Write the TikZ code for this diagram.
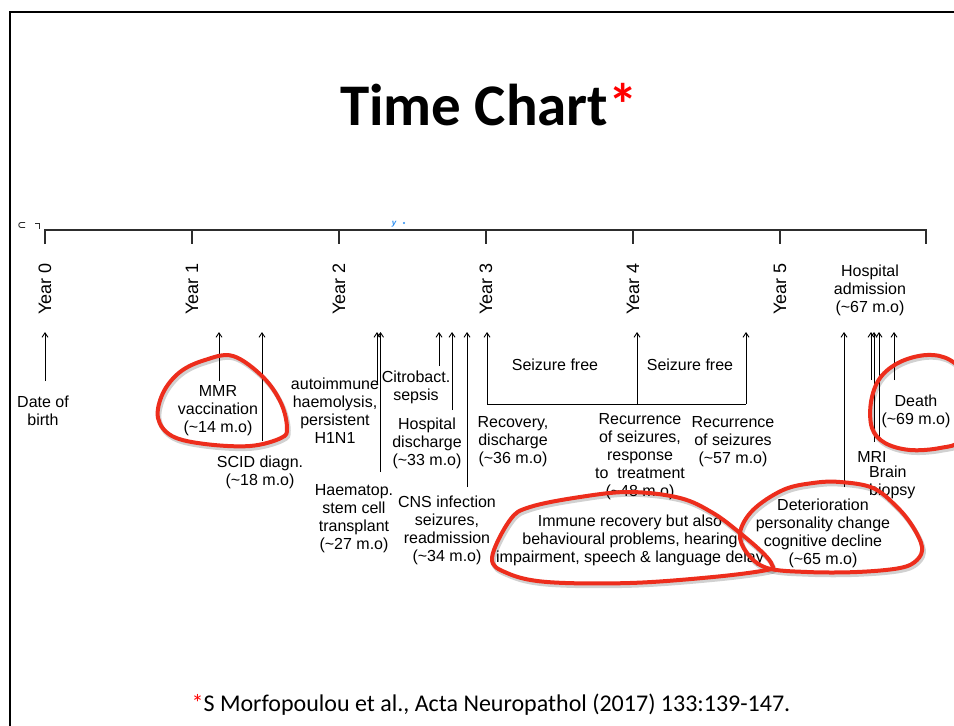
\documentclass[tikz,border=0pt]{standalone}
\usepackage{fontspec}
\setmainfont{Liberation Sans}
\newfontfamily\calfont{Carlito}
\usetikzlibrary{arrows.meta}
\definecolor{redc}{RGB}{237,45,28}
\definecolor{axisc}{RGB}{45,45,45}
\definecolor{bluec}{RGB}{40,140,240}
\newcommand{\tld}{\textasciitilde}
\begin{document}
\begin{tikzpicture}[x=1pt,y=-1pt,
  lbl/.style={align=center, inner sep=0pt, font=\fontsize{16}{18}\selectfont},
  yr/.style={rotate=90, anchor=east, inner sep=0pt, font=\fontsize{18}{20}\selectfont},
  arr/.style={-{Straight Barb[length=4.5pt,width=6pt]}, line width=0.9pt},
  blob/.style={draw=redc, line width=4pt, line join=round},
  shadowblob/.style={draw=black, opacity=0.18, line width=4.5pt},
  ax/.style={draw=axisc, line width=1.6pt, line join=miter}]
\useasboundingbox (0,0) rectangle (954,726);
\clip (0,0) rectangle (954,726);
\fill[white] (0,0) rectangle (954,726);
% frame
\draw[line width=2pt] (10,730) -- (10,12) -- (960,12);
% title
\node[anchor=base, inner sep=0pt, font=\calfont\bfseries\fontsize{59}{70}\selectfont] (title) at (489,125) {Time Chart\textcolor{red}{*}};
% small axis remnants
\draw[axisc, line width=0.9pt] (25,222.5) -- (21,222.5) .. controls (18,222.5) and (18,227.5) .. (21,227.5) -- (25,227.5);
\draw[axisc, line width=0.9pt] (35,223) -- (39,223) -- (39,229);
\node[inner sep=0pt, text=bluec, font=\bfseries\itshape\fontsize{8}{8}\selectfont] (blue) at (394,224) {y};
\fill[bluec] (404,223) circle (1.1);
% axis
\coordinate (a0) at (45,230);
\coordinate (a6) at (926,230);
\draw[ax] (45,244) -- (a0) -- (a6) -- (926,244);
\foreach \i in {1,...,5} {\draw[ax] (45+147*\i,230) -- (45+147*\i,244);}
\foreach \i in {0,...,5} {\node[yr] (y\i) at (45+147*\i,263) {Year \i};}
% arrows: coordinates
\foreach \n/\x/\yb in {dob/45/381, mmr/219/381, scid/262/441, auto/377/383, haem/380.5/472,
   cit/439/366, hd/452/410, cns/467/487, det/844/487, mria/871/380, mrib/874/442, brn/879/438, dth/894/380} {
  \coordinate (\n b) at (\x,\yb);
  \coordinate (\n t) at (\x,332);
  \draw[arr] (\n b) -- (\n t);
}
% bracket
\coordinate (br1) at (487,404);
\coordinate (br2) at (637,404);
\coordinate (br3) at (746,404);
\coordinate (br1t) at (487,332);
\coordinate (br2t) at (637,332);
\coordinate (br3t) at (746,332);
\draw[line width=0.9pt] (br1) -- (br3);
\draw[arr] (br1) -- (br1t);
\draw[arr] (br2) -- (br2t);
\draw[arr] (br3) -- (br3t);
\node[lbl] (sf1) at (555,365) {Seizure free};
\node[lbl] (sf2) at (690,365) {Seizure free};
% labels
\node[lbl] (ldob) at (43,411) {Date of\\birth};
\node[lbl] (lmmr) at (218,411) {MMR\\vaccination\\(\tld14 m.o)};
\node[lbl] (lscid) at (260,472) {SCID diagn.\\(\tld18 m.o)};
\node[lbl] (lauto) at (335,411) {autoimmune\\haemolysis,\\persistent\\H1N1};
\node[lbl] (lcit) at (416,387) {Citrobact.\\sepsis};
\node[lbl] (lhd) at (427,443) {Hospital\\discharge\\(\tld33 m.o)};
\node[lbl] (lhaem) at (354,519) {Haematop.\\stem cell\\transplant\\(\tld27 m.o)};
\node[lbl] (lcns) at (447,530) {CNS infection\\seizures,\\readmission\\(\tld34 m.o)};
\node[lbl] (lrec) at (513,442) {Recovery,\\discharge\\(\tld36 m.o)};
\node[lbl] (lrec48) at (640,457) {Recurrence\\of seizures,\\response\\to~~treatment\\(\tld48 m.o)};
\node[lbl] (lrec57) at (733,442) {Recurrence\\of seizures\\(\tld57 m.o)};
\node[lbl] (lhosp) at (870,290) {Hospital\\admission\\(\tld67 m.o)};
\node[lbl] (ldth) at (916,411) {Death\\(\tld69 m.o)};
\node[lbl] (lmri) at (872,457) {MRI};
\node[lbl, align=left, anchor=west] (lbrn) at (869,482) {Brain\\biopsy};
\node[lbl] (ldet) at (823,533) {Deterioration\\personality change\\cognitive decline\\(\tld65 m.o)};
\node[lbl] (limm) at (630,540) {Immune recovery but also\\behavioural problems, hearing\\impairment, speech \& language delay};
% red blobs
\def\blobA{(233,356) (263,377) (281,403) (287,428) (281,438) (250,446) (205,444) (172,436) (158,418) (163,393) (180,372) (205,360)}
\def\blobB{(492,558) (510,520) (530,507) (580,497) (630,492) (680,498) (713,513) (740,533) (763,553) (772,565) (767,570) (713,577) (630,583) (547,582) (507,573)}
\def\blobC{(840,482) (873,488) (897,507) (913,527) (922,547) (917,560) (900,568) (857,572) (807,572) (767,568) (747,553) (740,533) (753,510) (783,490) (813,483)}
\def\blobD{(927,355) (950,360) (970,380) (975,410) (962,440) (940,448) (910,450) (885,443) (872,428) (871,402) (880,378) (900,362)}
\begin{scope}[shift={(1.5,2.5)}]
\foreach \b in {\blobA,\blobB,\blobC,\blobD} {\draw[shadowblob] plot[smooth cycle, tension=0.6] coordinates \b;}
\end{scope}
\foreach \b in {\blobA,\blobB,\blobC,\blobD} {\draw[blob] plot[smooth cycle, tension=0.6] coordinates \b;}
% footnote
\node[anchor=base, inner sep=0pt, font=\calfont\fontsize{24}{28}\selectfont] (foot) at (491,711) {\textcolor{red}{*}S Morfopoulou et al., Acta Neuropathol (2017) 133:139-147.};
\end{tikzpicture}
\end{document}
